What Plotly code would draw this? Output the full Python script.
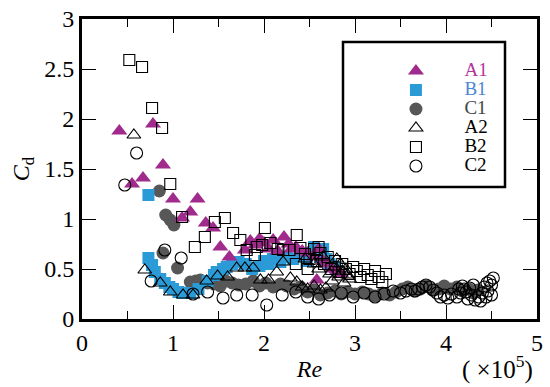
import plotly.graph_objects as go

# ---------------- data (Re in 1e5, Cd) ----------------
a1_re = [0.41, 0.78, 0.89, 0.67, 0.55, 1.00, 1.27, 1.19, 1.10, 1.36, 1.44, 1.52, 1.62, 1.79,
         1.85, 1.90, 1.95, 1.98, 2.00, 2.05, 2.10, 2.15, 2.22, 2.27, 2.30, 2.35, 2.42, 2.48,
         2.55, 2.60, 2.65, 2.70, 2.58, 2.75, 2.80, 2.85]
a1_cd = [1.88, 1.95, 1.54, 1.41, 1.35, 1.20, 1.20, 1.07, 1.01, 0.96, 0.91, 0.72, 0.62, 0.69,
         0.78, 0.74, 0.80, 0.77, 0.76, 0.70, 0.79, 0.68, 0.82, 0.75, 0.70, 0.72, 0.68, 0.66,
         0.62, 0.70, 0.58, 0.55, 0.39, 0.50, 0.48, 0.45]

b1_re = [0.73, 0.73, 0.77, 0.80, 0.86, 0.91, 0.96, 1.00, 1.06, 1.11, 1.19, 1.28, 1.38, 1.45,
         1.48, 1.55, 1.59, 1.65, 1.72, 1.80, 1.87, 1.95, 2.00, 2.05, 2.10, 2.18, 2.25, 2.32,
         2.40, 2.47, 2.52, 2.58, 2.62, 2.68, 2.72, 2.78, 2.55, 2.65]
b1_cd = [1.24, 0.61, 0.54, 0.47, 0.40, 0.36, 0.32, 0.30, 0.27, 0.26, 0.26, 0.30, 0.38, 0.44,
         0.47, 0.50, 0.52, 0.55, 0.57, 0.55, 0.50, 0.53, 0.58, 0.55, 0.60, 0.57, 0.62, 0.60,
         0.63, 0.58, 0.66, 0.68, 0.62, 0.60, 0.55, 0.52, 0.72, 0.70]

c1_re = [0.85, 0.92, 0.97, 1.01, 0.89, 1.05, 1.19, 1.25, 1.30, 1.38, 1.45, 1.52, 1.58, 1.65,
         1.72, 1.80, 1.88, 1.95, 2.02, 2.10, 2.18, 2.25, 2.33, 2.40, 2.48, 2.55, 2.62, 2.70,
         2.78, 2.85, 2.92, 3.00, 3.08, 3.15, 3.22, 3.30, 3.38, 3.45, 3.52, 3.58, 3.65, 3.72,
         3.78, 3.85, 3.92, 3.98, 4.05, 4.12, 4.18, 4.25, 4.30, 4.35]
c1_cd = [1.28, 1.04, 0.99, 0.94, 0.66, 0.51, 0.37, 0.38, 0.39, 0.36, 0.35, 0.33, 0.38, 0.36,
         0.34, 0.35, 0.38, 0.33, 0.36, 0.32, 0.35, 0.33, 0.30, 0.32, 0.27, 0.29, 0.24, 0.26,
         0.28, 0.25, 0.27, 0.25, 0.27, 0.25, 0.23, 0.26, 0.24, 0.27, 0.30, 0.32, 0.28, 0.30,
         0.33, 0.29, 0.30, 0.33, 0.30, 0.32, 0.28, 0.30, 0.26, 0.29]

a2_re = [0.57, 0.69, 0.86, 0.97, 1.11, 1.22, 1.37, 1.49, 1.60, 1.70, 1.79, 1.88, 1.96, 2.05,
         2.14, 2.21, 2.29, 2.36, 2.42, 2.48, 2.55, 2.62, 2.68, 2.72, 2.75, 2.78, 2.80, 2.82,
         2.84, 2.86, 2.88, 2.90, 2.92, 2.94, 2.45, 2.55, 2.60, 2.65]
a2_cd = [1.84, 0.49, 0.36, 0.27, 0.24, 0.24, 0.38, 0.43, 0.42, 0.51, 0.51, 0.51, 0.39, 0.39,
         0.47, 0.57, 0.41, 0.37, 0.32, 0.30, 0.33, 0.29, 0.31, 0.45, 0.38, 0.52, 0.60, 0.42,
         0.55, 0.48, 0.36, 0.50, 0.44, 0.40, 0.60, 0.55, 0.50, 0.62]

b2_re = [0.52, 0.66, 0.77, 0.88, 0.97, 1.10, 1.24, 1.35, 1.46, 1.57, 1.66, 1.74, 1.81, 1.90,
         1.92, 1.98, 2.01, 2.07, 2.15, 2.21, 2.28, 2.36, 2.40, 2.45, 2.50, 2.55, 2.58, 2.62,
         2.66, 2.70, 2.74, 2.78, 2.82, 2.86, 2.90, 2.94, 2.98, 3.02, 3.06, 3.10, 3.14, 3.18,
         3.22, 3.26, 3.30, 3.34, 2.60, 2.48, 2.35]
b2_cd = [2.59, 2.52, 2.11, 1.91, 1.35, 1.02, 0.72, 0.82, 0.97, 1.01, 0.86, 0.79, 0.69, 0.64,
         0.72, 0.74, 0.91, 0.76, 0.70, 0.69, 0.69, 0.84, 0.71, 0.65, 0.60, 0.70, 0.58, 0.66,
         0.55, 0.62, 0.50, 0.58, 0.47, 0.55, 0.50, 0.45, 0.52, 0.48, 0.42, 0.50, 0.44, 0.40,
         0.48, 0.42, 0.37, 0.45, 0.72, 0.50, 0.55]

c2_re = [0.60, 0.47, 0.91, 1.09, 0.76, 1.22, 1.38, 1.55, 1.70, 1.87, 2.03, 2.20, 2.35, 2.48,
         2.60, 2.72, 2.85, 2.98, 3.10, 3.22, 3.32, 3.42, 3.50, 3.56, 3.62, 3.66, 3.70, 3.74,
         3.78, 3.82, 3.86, 3.90, 3.94, 3.98, 4.02, 4.06, 4.12, 4.16, 4.20, 4.24, 4.28, 4.32,
         4.36, 4.40, 4.42, 4.45, 4.48, 4.50, 4.52, 4.46, 4.44, 4.38, 4.50, 4.14, 4.18, 4.22,
         4.26, 4.30]
c2_cd = [1.66, 1.34, 0.69, 0.61, 0.38, 0.25, 0.27, 0.21, 0.24, 0.24, 0.14, 0.24, 0.27, 0.22,
         0.20, 0.24, 0.26, 0.22, 0.26, 0.22, 0.25, 0.28, 0.26, 0.28, 0.30, 0.28, 0.30, 0.32,
         0.34, 0.32, 0.29, 0.26, 0.22, 0.24, 0.21, 0.25, 0.22, 0.26, 0.30, 0.20, 0.24, 0.19,
         0.22, 0.26, 0.32, 0.36, 0.38, 0.34, 0.41, 0.28, 0.22, 0.18, 0.24, 0.30, 0.33, 0.27,
         0.31, 0.34]

x_ticks = [0, 1, 2, 3, 4, 5]
x_tick_text = ["0", "1", "2", "3", "4", "5"]
y_ticks = [0, 0.5, 1, 1.5, 2, 2.5, 3]
y_tick_text = ["0", "0.5", "1", "1.5", "2", "2.5", "3"]

SERIF = "Liberation Serif"
MAG = "#a02b8c"
BLUE = "#2b9bd8"
GRAY = "#575757"

fig = go.Figure()

def add(x, y, name, symbol, color, lc, size, rank, open_=False):
    if open_:
        marker = dict(symbol=symbol, size=size, color="rgba(0,0,0,0)",
                      line=dict(color="black", width=1.1))
    else:
        marker = dict(symbol=symbol, size=size, color=color, line=dict(width=0))
    fig.add_trace(go.Scatter(
        x=x, y=y, mode="markers", marker=marker, legendrank=rank,
        name="<span style='color:%s;font-size:19px'>\u2003\u2002%s</span>" % (lc, name)))

add(c1_re, c1_cd, "C1", "circle", GRAY, "#444444", 13, 3)
add(b1_re, b1_cd, "B1", "square", BLUE, "#4a86d6", 12, 2)
add(a1_re, a1_cd, "A1", "triangle-up", MAG, "#b5359a", 14, 1)
add(a2_re, a2_cd, "A2", "triangle-up", None, "black", 12, 4, True)
add(b2_re, b2_cd, "B2", "square", None, "black", 11, 5, True)
add(c2_re, c2_cd, "C2", "circle", None, "black", 12, 6, True)

axis_common = dict(showline=True, linewidth=3, linecolor="black", mirror="ticks",
                   ticks="inside", tickwidth=1.2, tickcolor="black", ticklen=14,
                   showgrid=False, zeroline=False, automargin=False,
                   tickfont=dict(family=SERIF, size=24, color="black"))

fig.update_layout(
    template="none",
    width=550, height=387,
    margin=dict(l=82, r=13, t=19, b=68),
    paper_bgcolor="white", plot_bgcolor="white",
    font=dict(family=SERIF, color="black"),
    xaxis=dict(range=[0, 5], tickvals=x_ticks, ticktext=x_tick_text,
               minor=dict(ticks="inside", ticklen=8, dtick=0.5, tickwidth=1.2, tickcolor="black"),
               title=dict(text="<i>Re</i>", font=dict(family=SERIF, size=24), standoff=6),
               **axis_common),
    yaxis=dict(range=[0, 3], tickvals=y_ticks, ticktext=y_tick_text,
               title=dict(text="<i>C</i><sub>d</sub>", font=dict(family=SERIF, size=24), standoff=8),
               **axis_common),
    showlegend=True,
    legend=dict(x=0.690, y=0.875, xanchor="left", yanchor="top",
                bgcolor="rgba(0,0,0,0)", borderwidth=0,
                font=dict(family=SERIF, size=12, color="black"),
                itemsizing="trace"),
    shapes=[dict(type="rect", xref="paper", yref="paper",
                 x0=(343 - 82) / 455, x1=(505 - 82) / 455,
                 y0=(319 - 187) / 300, y1=(319 - 42) / 300,
                 line=dict(color="black", width=2.5), fillcolor="rgba(0,0,0,0)")],
    annotations=[dict(text="( \u00d710<sup>5</sup>)", xref="paper", yref="paper",
                      x=0.995, y=-0.10, xanchor="right", yanchor="top", showarrow=False,
                      font=dict(family=SERIF, size=25, color="black"))],
)

fig.write_html("out.html", config={"displayModeBar": False},
               post_script="document.body.style.margin='0';document.body.style.padding='0';")
